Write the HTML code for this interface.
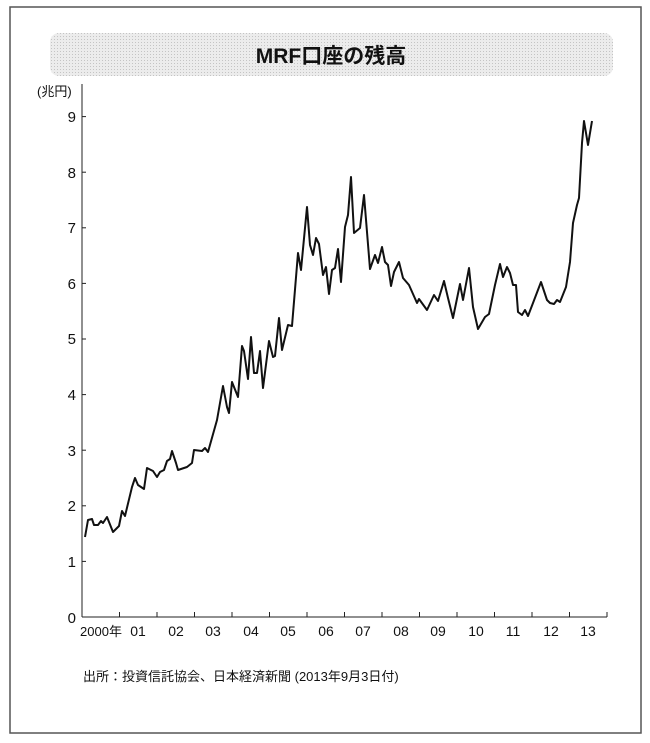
<!DOCTYPE html>
<html><head><meta charset="utf-8"><style>
html,body{margin:0;padding:0;background:#fff;}
svg{display:block;}
text{font-family:"Liberation Sans","Noto Sans CJK JP",sans-serif;fill:#111;}
</style></head><body>
<svg width="650" height="743" viewBox="0 0 650 743" xmlns="http://www.w3.org/2000/svg">
<defs><pattern id="dots" width="3" height="3" patternUnits="userSpaceOnUse"><rect width="3" height="3" fill="#ececec"/><rect width="1" height="1" fill="#c4c4c4"/></pattern></defs>
<rect x="10" y="7" width="631" height="726" fill="#fff" stroke="#555" stroke-width="1.5"/>
<rect x="50" y="33" width="563" height="43" rx="9" fill="url(#dots)"/>
<text x="331" y="63" font-size="21" font-weight="bold" text-anchor="middle">MRF口座の残高</text>
<text x="37" y="96" font-size="13">(兆円)</text>
<g stroke="#222" stroke-width="1" fill="none">
<line x1="82" y1="84" x2="82" y2="617"/>
<line x1="82" y1="617" x2="607" y2="617"/>
<line x1="82" y1="116.6" x2="86" y2="116.6"/><line x1="82" y1="172.2" x2="86" y2="172.2"/><line x1="82" y1="227.8" x2="86" y2="227.8"/><line x1="82" y1="283.4" x2="86" y2="283.4"/><line x1="82" y1="339" x2="86" y2="339"/><line x1="82" y1="394.6" x2="86" y2="394.6"/><line x1="82" y1="450.2" x2="86" y2="450.2"/><line x1="82" y1="505.8" x2="86" y2="505.8"/><line x1="82" y1="561.4" x2="86" y2="561.4"/>
<line x1="119.5" y1="617" x2="119.5" y2="612"/><line x1="157" y1="617" x2="157" y2="612"/><line x1="194.5" y1="617" x2="194.5" y2="612"/><line x1="232" y1="617" x2="232" y2="612"/><line x1="269.5" y1="617" x2="269.5" y2="612"/><line x1="307" y1="617" x2="307" y2="612"/><line x1="344.5" y1="617" x2="344.5" y2="612"/><line x1="382" y1="617" x2="382" y2="612"/><line x1="419.5" y1="617" x2="419.5" y2="612"/><line x1="457" y1="617" x2="457" y2="612"/><line x1="494.5" y1="617" x2="494.5" y2="612"/><line x1="532" y1="617" x2="532" y2="612"/><line x1="569.5" y1="617" x2="569.5" y2="612"/><line x1="607" y1="617" x2="607" y2="612"/>
</g>
<g font-size="15" text-anchor="end">
<text x="76" y="122">9</text><text x="76" y="178">8</text><text x="76" y="233">7</text><text x="76" y="289">6</text><text x="76" y="344">5</text><text x="76" y="400">4</text><text x="76" y="456">3</text><text x="76" y="511">2</text><text x="76" y="567">1</text><text x="76" y="623">0</text>
</g>
<g font-size="14" text-anchor="middle">
<text x="101" y="636" font-size="13">2000年</text><text x="138" y="636">01</text><text x="176" y="636">02</text><text x="213" y="636">03</text><text x="251" y="636">04</text><text x="288" y="636">05</text><text x="326" y="636">06</text><text x="363" y="636">07</text><text x="401" y="636">08</text><text x="438" y="636">09</text><text x="476" y="636">10</text><text x="513" y="636">11</text><text x="551" y="636">12</text><text x="588" y="636">13</text>
</g>
<text x="83" y="681" font-size="13">出所：投資信託協会、日本経済新聞 (2013年9月3日付)</text>
<polyline fill="none" stroke="#111" stroke-width="2" stroke-linejoin="round" points="85,537 88,520 92,519 94,525 98,525 101,521 103,523 107,517 113,532 119,526 122,511 125,516 132,487 135,478 138,485 144,489 147,468 153,471 157,477 160,472 164,470 167,461 170,459 172,451 176,463 178,470 187,467 192,463 194,450 202,451 205,448 208,452 217,420 223,386 227,407 229,413 232,382 238,397 242,346 244,351 248,379 251,337 254,373 257,373 260,351 263,388 269,341 273,357 275,356 279,318 282,350 288,325 292,326 298,253 301,270 307,207 310,245 313,255 316,238 319,244 323,275 326,267 329,294 332,270 335,268 338,249 341,282 345,227 348,215 351,177 354,233 360,228 364,195 370,269 375,255 378,263 382,247 385,262 388,265 391,286 394,272 399,262 403,278 409,285 417,303 419,299 427,310 434,295 438,301 444,281 448,298 453,318 460,284 463,300 469,268 473,307 478,329 485,317 489,314 495,285 500,264 503,277 507,267 510,273 513,285 516,285 518,312 522,315 525,310 528,316 533,303 541,282 547,300 550,303 554,304 557,300 560,302 566,287 570,262 573,223 577,205 579,198 582,143 584,121 588,145 592,121"/>
</svg>
</body></html>
